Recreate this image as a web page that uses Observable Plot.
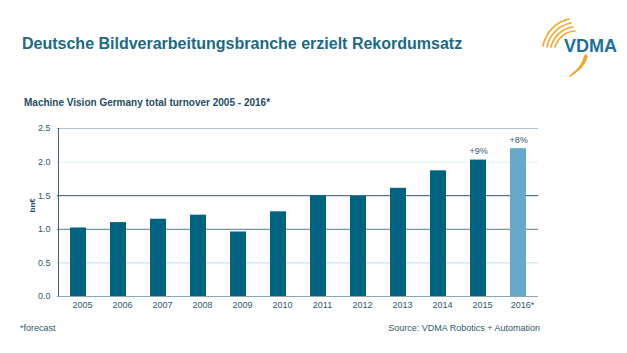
<!DOCTYPE html>
<html>
<head>
<meta charset="utf-8">
<script src="https://cdn.jsdelivr.net/npm/d3@7"></script>
<script src="https://cdn.jsdelivr.net/npm/@observablehq/plot@0.6"></script>
<style>
  html, body { margin: 0; padding: 0; background: #fff; }
  #page { position: relative; width: 627px; height: 353px; overflow: hidden; font-family: "Liberation Sans", Arial, sans-serif; }
  .title { position: absolute; left: 22px; top: 35px; font-size: 16px; font-weight: bold; color: #1a6a85; white-space: nowrap; }
  .subtitle { position: absolute; left: 24px; top: 97px; font-size: 10px; font-weight: bold; color: #1d4d60; white-space: nowrap; }
  .foot { position: absolute; top: 323px; font-size: 9px; color: #2b5a6c; white-space: nowrap; }
  #chart { position: absolute; left: 0; top: 110px; }
  #logo { position: absolute; left: 536px; top: 10px; }
</style>
</head>
<body>
<div id="page">
  <div class="title">Deutsche Bildverarbeitungsbranche erzielt Rekordumsatz</div>
  <div class="subtitle">Machine Vision Germany total turnover 2005 - 2016*</div>
  <svg id="logo" width="91" height="72" viewBox="0 0 91 72">
    <g fill="none" stroke="#f2a623" stroke-width="1.6" stroke-linecap="round">
      <path d="M7,36 A34,34 0 0 1 33,9"/>
      <path d="M11,37 A30,30 0 0 1 35,13"/>
      <path d="M15,37 A26,26 0 0 1 37,17"/>
      <path d="M19,37 A22,22 0 0 1 39,21"/>
      <path d="M38,63 A30,30 0 0 0 50,45"/>
      <path d="M42,60 A26,26 0 0 0 51,46"/>
      <path d="M34,66 A34,34 0 0 0 49,46"/>
    </g>
    <text x="28" y="42" font-family="Liberation Sans, Arial, sans-serif" font-weight="bold" font-size="18" fill="#1b6fa0">VDMA</text>
  </svg>
  <div id="chart"></div>
  <div class="foot" style="left:20px;">*forecast</div>
  <div class="foot" style="right:87px;">Source: VDMA Robotics + Automation</div>
</div>
<script>
const years = ["2005","2006","2007","2008","2009","2010","2011","2012","2013","2014","2015","2016*"];
const turnover = [1.02, 1.10, 1.15, 1.21, 0.96, 1.26, 1.50, 1.49, 1.61, 1.87, 2.03, 2.20];
const forecast = [false,false,false,false,false,false,false,false,false,false,false,true];
const growthLabels = ["","","","","","","","","","","+9%","+8%"];
const yTicks = [0, 0.5, 1.0, 1.5, 2.0, 2.5];
const gridLevels = [0, 0.5, 1.0, 1.5, 2.0, 2.5];

const data = years.map((y, i) => ({year: y, value: turnover[i], forecast: forecast[i], label: growthLabels[i]}));

const gridColor = v => v === 0 ? "#86a9b4" : v === 0.5 ? "#bfe2ea" : v === 1 ? "#587884" : v === 1.5 ? "#2f5564" : v === 2 ? "#ddf0f4" : "#a8c5ce";

const chart = Plot.plot({
  width: 627,
  height: 205,
  marginTop: 18,
  marginBottom: 19,
  marginLeft: 57,
  marginRight: 89,
  style: {fontFamily: "Liberation Sans, Arial, sans-serif", fontSize: "9px", color: "#2d5a6b", background: "transparent"},
  x: {domain: years, paddingInner: 0.6, paddingOuter: 0.3, label: null},
  y: {domain: [0, 2.5], label: null},
  marks: [
    Plot.ruleY(gridLevels, {y: d => d, stroke: d => gridColor(d), strokeWidth: 1}),
    Plot.barY(data, {x: "year", y: "value", fill: d => d.forecast ? "#66a9c9" : "#00637f"}),
    Plot.text(data.filter(d => d.label), {x: "year", y: "value", text: "label", lineAnchor: "bottom", dy: -6, fill: "#2d5a6b", fontSize: 9}),
    Plot.axisX({tickSize: 0, tickPadding: 5, dx: 4, fill: "#2d5a6b", label: null}),
    Plot.axisY({ticks: yTicks, tickSize: 0, tickPadding: 7, tickFormat: d3.format(".1f"), fill: "#2d5a6b", label: null}),
    Plot.ruleX([years[0]], {x: d => d, dx: -20.04, y1: 0, y2: 2.5, stroke: "#3c5f6c"}),
    Plot.text(["bn€"], {frameAnchor: "left", dx: -25, rotate: -90, fontWeight: "bold", fontSize: 8, fill: "#1d4d60", text: d => d})
  ]
});
document.getElementById("chart").appendChild(chart);
</script>
</body>
</html>
